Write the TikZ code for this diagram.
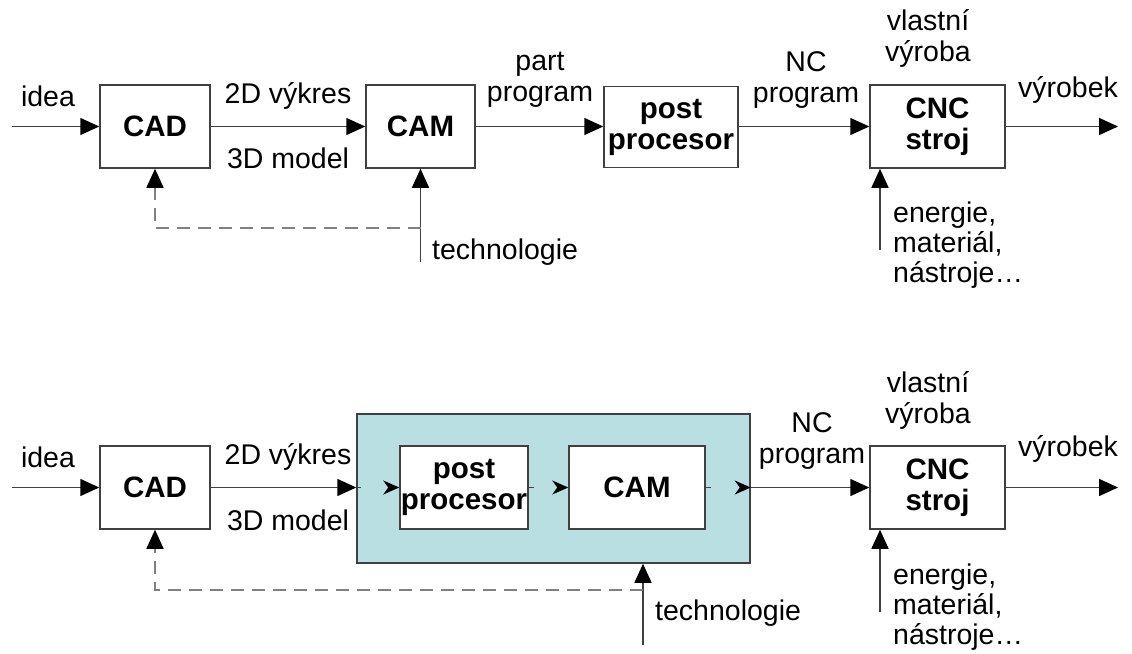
\documentclass[tikz,border=0pt]{standalone}
\usepackage{fontspec}
\setmainfont{Liberation Sans}
\usepackage{xcolor}
\usetikzlibrary{arrows.meta}
\usetikzlibrary{positioning}
\definecolor{ramecek}{RGB}{64,64,64}
\definecolor{tyrkys}{RGB}{185,223,227}
\tikzstyle{blok} = [draw=ramecek, fill=white, line width=1.5pt,
font=\fontsize{29.5}{31}\selectfont\bfseries, align=center, inner sep=0pt]
\tikzstyle{popis} = [font=\fontsize{28.5}{31}\selectfont, align=center, inner sep=0pt]
\tikzstyle{popisL} = [font=\fontsize{28.5}{30}\selectfont, align=left, inner sep=0pt, anchor=west]
\tikzstyle{sipka} = [draw=ramecek, line width=1.5pt, -{Triangle[length=19pt,width=17pt,black]}]
\tikzstyle{vnitrni} = [draw=tyrkys, line width=1.5pt, -{Stealth[length=16pt,width=14pt,inset=5pt,black]}]
\tikzstyle{carkovane} = [draw=black!50, line width=1.5pt, dash pattern=on 13pt off 8pt,
-{Triangle[length=19pt,width=17pt,black]}]
\tikzstyle{cara} = [draw=ramecek, line width=1.5pt]

\begin{document}
\begin{tikzpicture}[x=1pt,y=-1pt]
        \useasboundingbox (0,0) rectangle (1132,653);
        % horni schema
        \node[blok, minimum width=110, minimum height=83] (cad1) at (155,126.5) {CAD};
        \node[blok, minimum width=109, minimum height=83] (cam1) at (420.5,126.5) {CAM};
        \node[blok, minimum width=134, minimum height=81] (post1) at (671,127) {post\\procesor};
        \node[blok, minimum width=135, minimum height=83] (cnc1) at (937.5,126.5) {CNC\\stroj};
        \coordinate (vstup1) at (12,126.5);
        \coordinate (konec1) at (1118,126.5);
        \coordinate (tech1) at (420.5,262);
        \coordinate (odb1) at (420.5,228);
        \coordinate (en1) at (880,250);
        \draw[sipka] (vstup1) -- (cad1.west);
        \draw[sipka] (cad1.east) -- (cam1.west);
        \draw[sipka] (cam1.east) -- (post1.west |- cam1.east);
        \draw[sipka] (post1.east |- cnc1.west) -- (cnc1.west);
        \draw[sipka] (cnc1.east) -- (konec1);
        \draw[sipka] (tech1) -- (cam1.south);
        \draw[carkovane] (odb1) -| (cad1.south);
        \draw[sipka] (en1) -- (en1 |- cnc1.south);
        \node[popis] (idea1) at (48,96) {idea};
        \node[popis] (vykres1) at (288,96) {2D výkres};
        \node[popis] (model1) at (288,158) {3D model};
        \node[popis] (part1) at (540,80) {part\\program};
        \node[popis] (nc1) at (806,80) {NC\\program};
        \node[popis] (vyroba1) at (928,38) {vlastní\\výroba};
        \node[popis] (vyrobek1) at (1068,90) {výrobek};
        \node[popisL] (techtxt1) at (432,252) {technologie};
        \node[popisL] (entxt1) at (893,245) {energie,\\materiál,\\nástroje…};
        % dolni schema
        \node[blok, minimum width=110, minimum height=83] (cad2) at (155,487.5) {CAD};
        \node[draw=ramecek, fill=tyrkys, line width=1.5pt, minimum width=393,
            minimum height=149] (integr) at (553.5,488.5) {};
        \node[blok, minimum width=128, minimum height=83] (post2) at (464,487.5) {post\\procesor};
        \node[blok, minimum width=136, minimum height=83] (cam2) at (637,487.5) {CAM};
        \node[blok, minimum width=135, minimum height=83] (cnc2) at (937.5,487.5) {CNC\\stroj};
        \coordinate (vstup2) at (12,487.5);
        \coordinate (konec2) at (1118,487.5);
        \coordinate (tech2) at (643,645);
        \coordinate (odb2) at (643,590);
        \coordinate (en2) at (880,612);
        \draw[sipka] (vstup2) -- (cad2.west);
        \draw[sipka] (cad2.east) -- (cad2.east -| integr.west);
        \draw[vnitrni] (cad2.east -| integr.west) -- (post2.west);
        \draw[vnitrni] (post2.east) -- (cam2.west);
        \draw[vnitrni] (cam2.east) -- (cam2.east -| integr.east);
        \draw[cara] (cad2.east -| integr.west) -- ++(5,0);
        \draw[cara] (post2.east) -- ++(5,0);
        \draw[cara] (cam2.east) -- ++(5,0);
        \draw[sipka] (cam2.east -| integr.east) -- (cnc2.west);
        \draw[sipka] (cnc2.east) -- (konec2);
        \draw[sipka] (tech2) -- (tech2 |- integr.south);
        \draw[carkovane] (odb2) -| (cad2.south);
        \draw[sipka] (en2) -- (en2 |- cnc2.south);
        \node[popis] (idea2) at (48,457) {idea};
        \node[popis] (vykres2) at (288,457) {2D výkres};
        \node[popis] (model2) at (288,520) {3D model};
        \node[popis] (nc2) at (812,441) {NC\\program};
        \node[popis] (vyroba2) at (928,400) {vlastní\\výroba};
        \node[popis] (vyrobek2) at (1068,449) {výrobek};
        \node[popisL] (techtxt2) at (655,613) {technologie};
        \node[popisL] (entxt2) at (893,607) {energie,\\materiál,\\nástroje…};
    \end{tikzpicture}
\end{document}
